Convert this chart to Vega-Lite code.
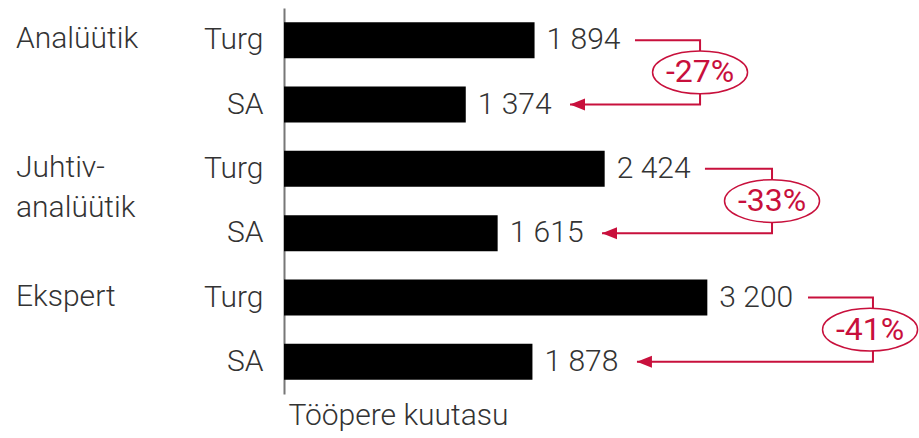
{
  "$schema": "https://vega.github.io/schema/vega-lite/v6.json",
  "width": 635,
  "height": 386,
  "autosize": {"type": "none"},
  "padding": {"left": 284, "top": 8, "right": 0, "bottom": 44},
  "background": "white",
  "config": {
    "view": {"stroke": null},
    "font": "Roboto",
    "locale": {"number": {"decimal": ",", "thousands": " ", "grouping": [3], "currency": ["", " €"]}}
  },
  "datasets": {
    "bars": [
      {"key": "Analüütik|Turg", "value": 1894},
      {"key": "Analüütik|SA", "value": 1374},
      {"key": "Juhtiv-analüütik|Turg", "value": 2424},
      {"key": "Juhtiv-analüütik|SA", "value": 1615},
      {"key": "Ekspert|Turg", "value": 3200},
      {"key": "Ekspert|SA", "value": 1878}
    ],
    "groups": [
      {"key": "Analüütik|Turg", "label": "Analüütik"},
      {"key": "Juhtiv-analüütik|Turg", "label": "Juhtiv-\nanalüütik"},
      {"key": "Ekspert|Turg", "label": "Ekspert"}
    ],
    "brackets": [
      {"g": "A", "key": "Analüütik|Turg", "x": 2653, "o": 1},
      {"g": "A", "key": "Analüütik|Turg", "x": 3145, "o": 2},
      {"g": "A", "key": "Analüütik|SA", "x": 3145, "o": 3},
      {"g": "A", "key": "Analüütik|SA", "x": 2162, "o": 4},
      {"g": "J", "key": "Juhtiv-analüütik|Turg", "x": 3182, "o": 1},
      {"g": "J", "key": "Juhtiv-analüütik|Turg", "x": 3689, "o": 2},
      {"g": "J", "key": "Juhtiv-analüütik|SA", "x": 3689, "o": 3},
      {"g": "J", "key": "Juhtiv-analüütik|SA", "x": 2404, "o": 4},
      {"g": "E", "key": "Ekspert|Turg", "x": 3961, "o": 1},
      {"g": "E", "key": "Ekspert|Turg", "x": 4452, "o": 2},
      {"g": "E", "key": "Ekspert|SA", "x": 4452, "o": 3},
      {"g": "E", "key": "Ekspert|SA", "x": 2668, "o": 4}
    ],
    "badges": [
      {"key": "Analüütik|Turg", "x": 3145, "pct": "-27%"},
      {"key": "Juhtiv-analüütik|Turg", "x": 3689, "pct": "-33%"},
      {"key": "Ekspert|Turg", "x": 4430, "pct": "-41%"}
    ]
  },
  "layer": [
    {
      "data": {"name": "bars"},
      "mark": {"type": "bar", "color": "#000000"},
      "encoding": {
        "y": {
          "field": "key", "type": "nominal",
          "scale": {"domain": ["Analüütik|Turg", "Analüütik|SA", "Juhtiv-analüütik|Turg", "Juhtiv-analüütik|SA", "Ekspert|Turg", "Ekspert|SA"], "paddingInner": 0.44, "paddingOuter": 0.22},
          "axis": {"title": null, "labelExpr": "split(datum.value, '|')[1]", "ticks": false, "domain": true, "domainColor": "#777777", "domainWidth": 2, "grid": false, "labelFontSize": 30, "labelColor": "#333333", "labelFontWeight": 300, "labelPadding": 21, "labelFont": "Roboto"}
        },
        "x": {
          "field": "value", "type": "quantitative",
          "scale": {"domain": [0, 4800], "nice": false, "zero": true},
          "axis": {"title": "Tööpere kuutasu", "domain": false, "ticks": false, "labels": false, "grid": false, "titleFontSize": 30, "titleFontWeight": 300, "titleColor": "#333333", "titleFont": "Roboto", "titleAnchor": "start", "titleAlign": "left", "titleX": 4, "titlePadding": 6}
        }
      }
    },
    {
      "data": {"name": "bars"},
      "mark": {"type": "text", "align": "left", "baseline": "middle", "dx": 12, "fontSize": 30, "fontWeight": 300, "color": "#333333"},
      "encoding": {
        "y": {"field": "key", "type": "nominal"},
        "x": {"field": "value", "type": "quantitative"},
        "text": {"field": "value", "type": "quantitative", "format": ",d"}
      }
    },
    {
      "data": {"name": "groups"},
      "mark": {"type": "text", "align": "left", "baseline": "alphabetic", "dx": -268, "dy": 8, "lineBreak": "\n", "lineHeight": 40, "fontSize": 30, "fontWeight": 300, "color": "#333333"},
      "encoding": {
        "y": {"field": "key", "type": "nominal"},
        "x": {"datum": 0, "type": "quantitative"},
        "text": {"field": "label", "type": "nominal"}
      }
    },
    {
      "data": {"name": "brackets"},
      "mark": {"type": "line", "color": "#c8103c", "strokeWidth": 2},
      "encoding": {
        "y": {"field": "key", "type": "nominal"},
        "x": {"field": "x", "type": "quantitative"},
        "detail": {"field": "g", "type": "nominal"},
        "order": {"field": "o", "type": "quantitative"}
      }
    },
    {
      "data": {"name": "brackets"},
      "transform": [{"filter": "datum.o == 4"}],
      "mark": {"type": "point", "shape": "M0,0L1,-0.4L1,0.4Z", "size": 900, "filled": true, "color": "#c8103c", "opacity": 1, "strokeWidth": 0},
      "encoding": {
        "y": {"field": "key", "type": "nominal"},
        "x": {"field": "x", "type": "quantitative"}
      }
    },
    {
      "data": {"name": "badges"},
      "mark": {"type": "point", "shape": "M-1,0A1,0.45 0 1,0 1,0A1,0.45 0 1,0 -1,0Z", "size": 9025, "filled": true, "fill": "#ffffff", "stroke": "#c8103c", "strokeWidth": 1.5, "opacity": 1, "fillOpacity": 1, "strokeOpacity": 1},
      "encoding": {
        "y": {"field": "key", "type": "nominal", "bandPosition": 1.393},
        "x": {"field": "x", "type": "quantitative"}
      }
    },
    {
      "data": {"name": "badges"},
      "mark": {"type": "text", "align": "center", "baseline": "middle", "fontSize": 32, "color": "#c8103c"},
      "encoding": {
        "y": {"field": "key", "type": "nominal", "bandPosition": 1.393},
        "x": {"field": "x", "type": "quantitative"},
        "text": {"field": "pct", "type": "nominal"}
      }
    }
  ]
}
